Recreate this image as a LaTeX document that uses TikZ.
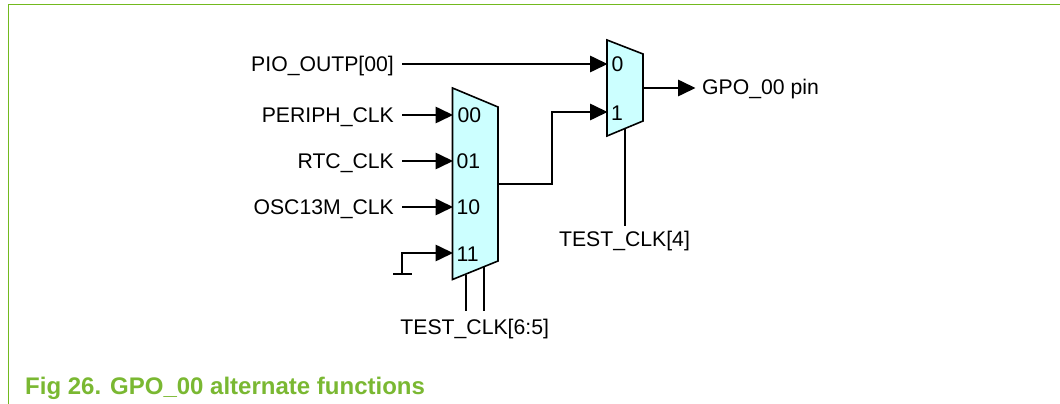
\documentclass[tikz,border=0pt]{standalone}
\usepackage{fontspec}
\setmainfont{Liberation Sans}
\usetikzlibrary{arrows.meta}
\definecolor{framegreen}{RGB}{115,185,30}
\definecolor{capgreen}{RGB}{122,184,50}
\definecolor{muxfill}{RGB}{204,255,255}
\tikzset{
  x=1pt,y=-1pt,
  wire/.style={draw=black,line width=1.6pt},
  sig/.style={wire,-{Triangle[length=17.5pt,width=16.5pt]},shorten >=-0.5pt},
  mux/.style={draw=black,fill=muxfill,line width=1.6pt,line join=miter},
  lab/.style={font=\fontsize{21.2}{24}\selectfont,inner sep=0pt,text=black},
  figcap/.style={font=\fontsize{24}{28}\bfseries\selectfont,inner sep=0pt,text=capgreen,anchor=base west},
  greenframe/.style={draw=framegreen,line width=1.5pt},
}
\begin{document}
\begin{tikzpicture}
\useasboundingbox (0,0) rectangle (1060,404);
\draw[greenframe] (8.5,404) -- (8.5,4.5) -- (1060,4.5);
% ports
\coordinate (m1tl) at (452.5,88);
\coordinate (m1tr) at (498,107);
\coordinate (m1br) at (498,261);
\coordinate (m1bl) at (452.5,279.5);
\coordinate (m2tl) at (607,40);
\coordinate (m2tr) at (643,54);
\coordinate (m2br) at (643,121);
\coordinate (m2bl) at (607,136);
\draw[mux] (m1tl) -- (m1tr) -- (m1br) -- (m1bl) -- cycle;
\draw[mux] (m2tl) -- (m2tr) -- (m2br) -- (m2bl) -- cycle;
% input labels
\node[lab,anchor=base east] (pio) at (394,71.5) {PIO\_OUTP[00]};
\node[lab,anchor=base east] (per) at (394,122.5) {PERIPH\_CLK};
\node[lab,anchor=base east] (rtc) at (394,168.5) {RTC\_CLK};
\node[lab,anchor=base east] (osc) at (394,214.5) {OSC13M\_CLK};
\node[lab,anchor=base west] (gpo) at (702,95) {GPO\_00 pin};
\node[lab,anchor=base] (t4) at (624.5,246.7) {TEST\_CLK[4]};
\node[lab,anchor=base] (t65) at (474.7,334) {TEST\_CLK[6:5]};
% port labels
\node[lab,anchor=base west] (p0) at (611.5,71.5) {0};
\node[lab,anchor=base west] (p1) at (611,120.5) {1};
\node[lab,anchor=base west] (q0) at (457.5,122.5) {00};
\node[lab,anchor=base west] (q1) at (456.5,168.5) {01};
\node[lab,anchor=base west] (q2) at (456.5,214.5) {10};
\node[lab,anchor=base west] (q3) at (456.5,261) {11};
% connector ends
\coordinate (a0) at (402,64);   \coordinate (b0) at (607,64);
\coordinate (a1) at (402,115);  \coordinate (b1) at (452.5,115);
\coordinate (a2) at (402,161);  \coordinate (b2) at (452.5,161);
\coordinate (a3) at (402,207);  \coordinate (b3) at (452.5,207);
\coordinate (gnd) at (402,274); \coordinate (b4) at (452.5,253);
\coordinate (gl) at (393,274);  \coordinate (gr) at (412,274);
\coordinate (mo) at (498,184);  \coordinate (b5) at (607,112);
\coordinate (o0) at (643,88);   \coordinate (o1) at (695,88);
\coordinate (s4a) at (625,128.5); \coordinate (s4b) at (625,226);
\coordinate (s6a) at (466,274.5); \coordinate (s6b) at (466,311);
\coordinate (s5a) at (484,267); \coordinate (s5b) at (484,311);
\draw[sig] (a0) -- (b0);
\draw[sig] (a1) -- (b1);
\draw[sig] (a2) -- (b2);
\draw[sig] (a3) -- (b3);
\draw[sig] (gnd) |- (b4);
\draw[wire] (gl) -- (gr);
\draw[sig] (mo) -- (552,184) |- (b5);
\draw[sig] (o0) -- (o1);
\draw[wire] (s4a) -- (s4b);
\draw[wire] (s6a) -- (s6b);
\draw[wire] (s5a) -- (s5b);
\node[figcap] (fig) at (25,394) {Fig 26.};
\node[figcap] (title) at (110,394) {GPO\_00 alternate functions};
\end{tikzpicture}
\end{document}
